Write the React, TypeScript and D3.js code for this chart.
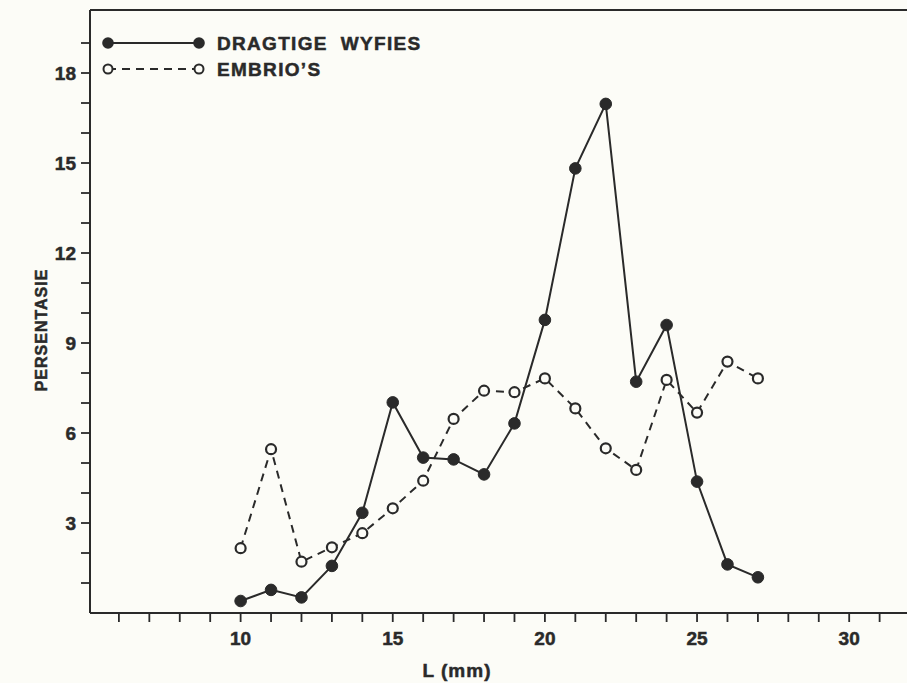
import React from "react";
import * as d3 from "d3";

const lengths = [10, 11, 12, 13, 14, 15, 16, 17, 18, 19, 20, 21, 22, 23, 24, 25, 26, 27];
const dragtigeWyfies = [0.4, 0.77, 0.52, 1.57, 3.34, 7.02, 5.18, 5.12, 4.62, 6.32, 9.77, 14.82, 16.97, 7.71, 9.6, 4.38, 1.62, 1.19];
const embrios = [2.16, 5.46, 1.71, 2.19, 2.66, 3.49, 4.41, 6.47, 7.41, 7.36, 7.82, 6.82, 5.49, 4.77, 7.77, 6.68, 8.38, 7.82];
const xTicks = [6, 7, 8, 9, 10, 11, 12, 13, 14, 15, 16, 17, 18, 19, 20, 21, 22, 23, 24, 25, 26, 27, 28, 29, 30, 31];
const xTickLabels = [10, 15, 20, 25, 30];
const yTicks = [1, 2, 3, 4, 5, 6, 7, 8, 9, 10, 11, 12, 13, 14, 15, 16, 17, 18, 19];
const yTickLabels = [3, 6, 9, 12, 15, 18];
const seriesNames = ["DRAGTIGE\u00A0\u00A0WYFIES", "EMBRIO\u2019S"];

const W = 907;
const H = 683;
const INK = "#2a2a2a";
const BG = "#fcfcf7";
const FONT = "'Liberation Sans', Arial, Helvetica, sans-serif";

export default function App() {
  const x = d3.scaleLinear().domain([5.05, 31.9]).range([90, 907]);
  const y = d3.scaleLinear().domain([0, 20.1]).range([613, 10]);
  const line = d3
    .line<number>()
    .x((_, i) => x(lengths[i]))
    .y((d) => y(d));

  const textProps = { fontWeight: "bold", fill: INK, stroke: INK, strokeWidth: 0.5 } as const;

  return (
    <svg
      width={W}
      height={H}
      style={{ position: "absolute", left: 0, top: 0, background: BG }}
      fontFamily={FONT}
    >
      <rect x={0} y={0} width={W} height={H} fill={BG} />
      {/* frame */}
      <line x1={x.range()[0]} x2={W} y1={y.range()[1]} y2={y.range()[1]} stroke={INK} strokeWidth={2.2} />
      <line x1={x.range()[0]} x2={x.range()[0]} y1={y.range()[1]} y2={y(0)} stroke={INK} strokeWidth={2} />
      <line x1={x.range()[0]} x2={W} y1={y(0)} y2={y(0)} stroke={INK} strokeWidth={2.2} />

      {/* x ticks */}
      {xTicks.map((t) => (
        <line key={"xt" + t} x1={x(t)} x2={x(t)} y1={y(0)} y2={y(0) + 9} stroke={INK} strokeWidth={1.8} />
      ))}
      {xTickLabels.map((t) => (
        <text key={"xl" + t} x={x(t)} y={645} textAnchor="middle" fontSize={19} {...textProps}>
          {t}
        </text>
      ))}
      <text x={457} y={677} textAnchor="middle" fontSize={19} letterSpacing={1} {...textProps}>
        L (mm)
      </text>

      {/* y ticks */}
      {yTicks.map((t) => (
        <line key={"yt" + t} x1={x.range()[0] - 9} x2={x.range()[0]} y1={y(t)} y2={y(t)} stroke={INK} strokeWidth={1.8} />
      ))}
      {yTickLabels.map((t) => (
        <text key={"yl" + t} x={76} y={y(t) + 7} textAnchor="end" fontSize={19} {...textProps}>
          {t}
        </text>
      ))}
      <text
        transform={`translate(47, 330) rotate(-90)`}
        textAnchor="middle"
        fontSize={16}
        letterSpacing={1}
        {...textProps}
      >
        PERSENTASIE
      </text>

      {/* embrio's dashed */}
      <path d={line(embrios) || ""} fill="none" stroke={INK} strokeWidth={2} strokeDasharray="8,6" />
      {embrios.map((v, i) => (
        <circle key={"e" + i} cx={x(lengths[i])} cy={y(v)} r={5} fill={BG} stroke={INK} strokeWidth={2.2} />
      ))}

      {/* dragtige wyfies solid */}
      <path d={line(dragtigeWyfies) || ""} fill="none" stroke={INK} strokeWidth={2} />
      {dragtigeWyfies.map((v, i) => (
        <circle key={"d" + i} cx={x(lengths[i])} cy={y(v)} r={5.8} fill={INK} stroke={INK} strokeWidth={1} />
      ))}

      {/* legend */}
      <line x1={108} x2={199} y1={43} y2={43} stroke={INK} strokeWidth={2} />
      <circle cx={108} cy={43} r={5.8} fill={INK} />
      <circle cx={199} cy={43} r={5.8} fill={INK} />
      <text x={217} y={50} fontSize={19} letterSpacing={1.3} {...textProps}>
        {seriesNames[0]}
      </text>
      <line x1={108} x2={198} y1={69} y2={69} stroke={INK} strokeWidth={2} strokeDasharray="8,6" />
      <circle cx={108} cy={69} r={4.5} fill={BG} stroke={INK} strokeWidth={2} />
      <circle cx={199} cy={69} r={4.5} fill={BG} stroke={INK} strokeWidth={2} />
      <text x={217} y={76} fontSize={19} letterSpacing={1.3} {...textProps}>
        {seriesNames[1]}
      </text>
    </svg>
  );
}
